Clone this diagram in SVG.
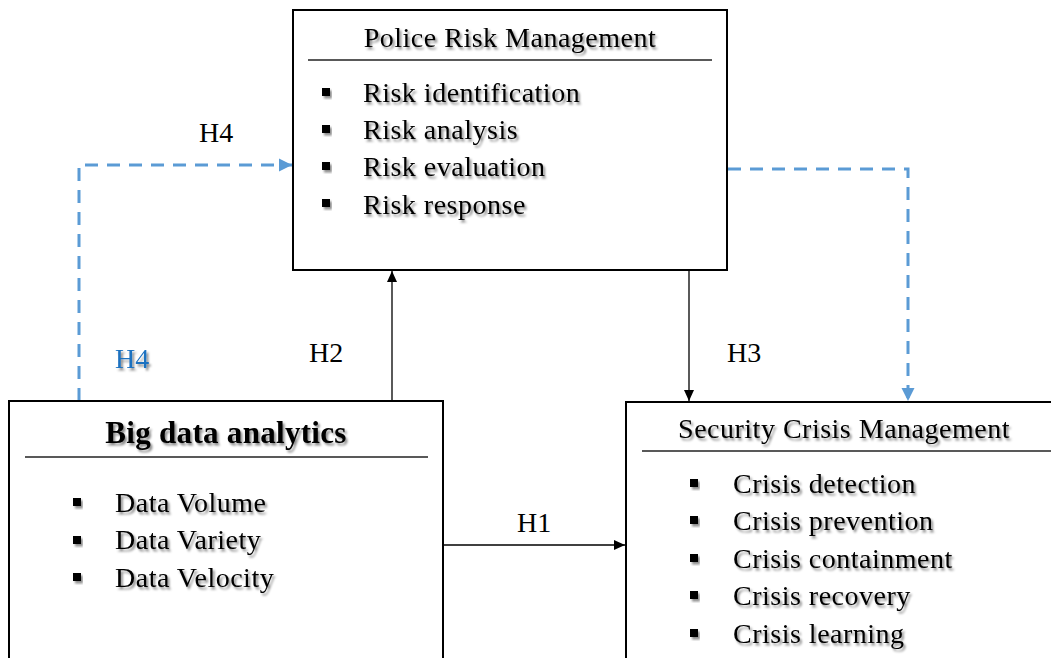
<svg xmlns="http://www.w3.org/2000/svg" width="1051" height="658" viewBox="0 0 1051 658">
<style>
.box{fill:#fff;stroke:#000;stroke-width:2}
.rule{stroke:#222;stroke-width:1.3}
.t{font-family:"Liberation Serif","Times New Roman",serif;font-size:28px;fill:#000;letter-spacing:0.5px;filter:url(#sh)}
.big{font-size:31px;font-weight:bold;letter-spacing:0.3px}
.lbl{font-family:"Liberation Serif","Times New Roman",serif;font-size:28px;fill:#000}
.blue{fill:#1F72C0;filter:url(#sh)}
.bul{fill:#000;filter:url(#sh)}
.solid{stroke:#000;stroke-width:1.3;fill:none}
.dash{stroke:#5B9BD5;stroke-width:3;fill:none;stroke-dasharray:13 9}
</style>
<defs>
<filter id="sh" x="-10%" y="-30%" width="130%" height="180%">
<feDropShadow dx="2" dy="2.5" stdDeviation="1.3" flood-color="#000" flood-opacity="0.45"/>
</filter>
<marker id="ab" markerWidth="12" markerHeight="12" refX="11" refY="6" orient="auto" markerUnits="userSpaceOnUse">
<path d="M0,1 L11,6 L0,11 Z" fill="#000"/>
</marker>
<marker id="abl" markerWidth="14" markerHeight="14" refX="13" refY="7" orient="auto" markerUnits="userSpaceOnUse">
<path d="M0,0.5 L13,7 L0,13.5 Z" fill="#5B9BD5"/>
</marker>
</defs>
<rect width="1051" height="658" fill="#fff"/>

<g id="connectors">
<path class="solid" d="M443,545 L625,545" marker-end="url(#ab)"/>
<path class="solid" d="M392,401 L392,271" marker-end="url(#ab)"/>
<path class="solid" d="M689,271 L689,401" marker-end="url(#ab)"/>
<path class="dash" d="M79,401 L79,165 L292,165" marker-end="url(#abl)"/>
<path class="dash" d="M728,169 L908,169 L908,401" marker-end="url(#abl)"/>
<text class="lbl" x="517" y="532">H1</text>
<text class="lbl" x="309" y="362">H2</text>
<text class="lbl" x="727" y="362">H3</text>
<text class="lbl" x="199" y="142">H4</text>
<text class="lbl blue" x="115" y="368">H4</text>
</g>

<g id="police-risk-management">
<rect class="box" x="293" y="10" width="434" height="260"/>
<text class="t" x="510" y="47" text-anchor="middle">Police Risk Management</text>
<line class="rule" x1="308" y1="60" x2="712" y2="60"/>
<rect class="bul" x="322" y="88" width="8" height="8"/>
<rect class="bul" x="322" y="125" width="8" height="8"/>
<rect class="bul" x="322" y="162" width="8" height="8"/>
<rect class="bul" x="322" y="199" width="8" height="8"/>
<text class="t" x="363" y="102">Risk identification</text>
<text class="t" x="363" y="139">Risk analysis</text>
<text class="t" x="363" y="176">Risk evaluation</text>
<text class="t" x="363" y="214">Risk response</text>
</g>

<g id="big-data-analytics">
<rect class="box" x="9" y="401" width="434" height="270"/>
<text class="t big" x="226" y="443" text-anchor="middle">Big data analytics</text>
<line class="rule" x1="25" y1="457" x2="428" y2="457"/>
<rect class="bul" x="73" y="498" width="8" height="8"/>
<rect class="bul" x="73" y="536" width="8" height="8"/>
<rect class="bul" x="73" y="573" width="8" height="8"/>
<text class="t" x="115" y="512">Data Volume</text>
<text class="t" x="115" y="549">Data Variety</text>
<text class="t" x="115" y="587">Data Velocity</text>
</g>

<g id="security-crisis-management">
<rect class="box" x="626" y="402" width="440" height="270"/>
<text class="t" x="844" y="438" text-anchor="middle">Security Crisis Management</text>
<line class="rule" x1="642" y1="451" x2="1051" y2="451"/>
<rect class="bul" x="690" y="479" width="8" height="8"/>
<rect class="bul" x="690" y="516" width="8" height="8"/>
<rect class="bul" x="690" y="554" width="8" height="8"/>
<rect class="bul" x="690" y="591" width="8" height="8"/>
<rect class="bul" x="690" y="629" width="8" height="8"/>
<text class="t" x="733" y="493">Crisis detection</text>
<text class="t" x="733" y="530">Crisis prevention</text>
<text class="t" x="733" y="568">Crisis containment</text>
<text class="t" x="733" y="605">Crisis recovery</text>
<text class="t" x="733" y="643">Crisis learning</text>
</g>
</svg>
